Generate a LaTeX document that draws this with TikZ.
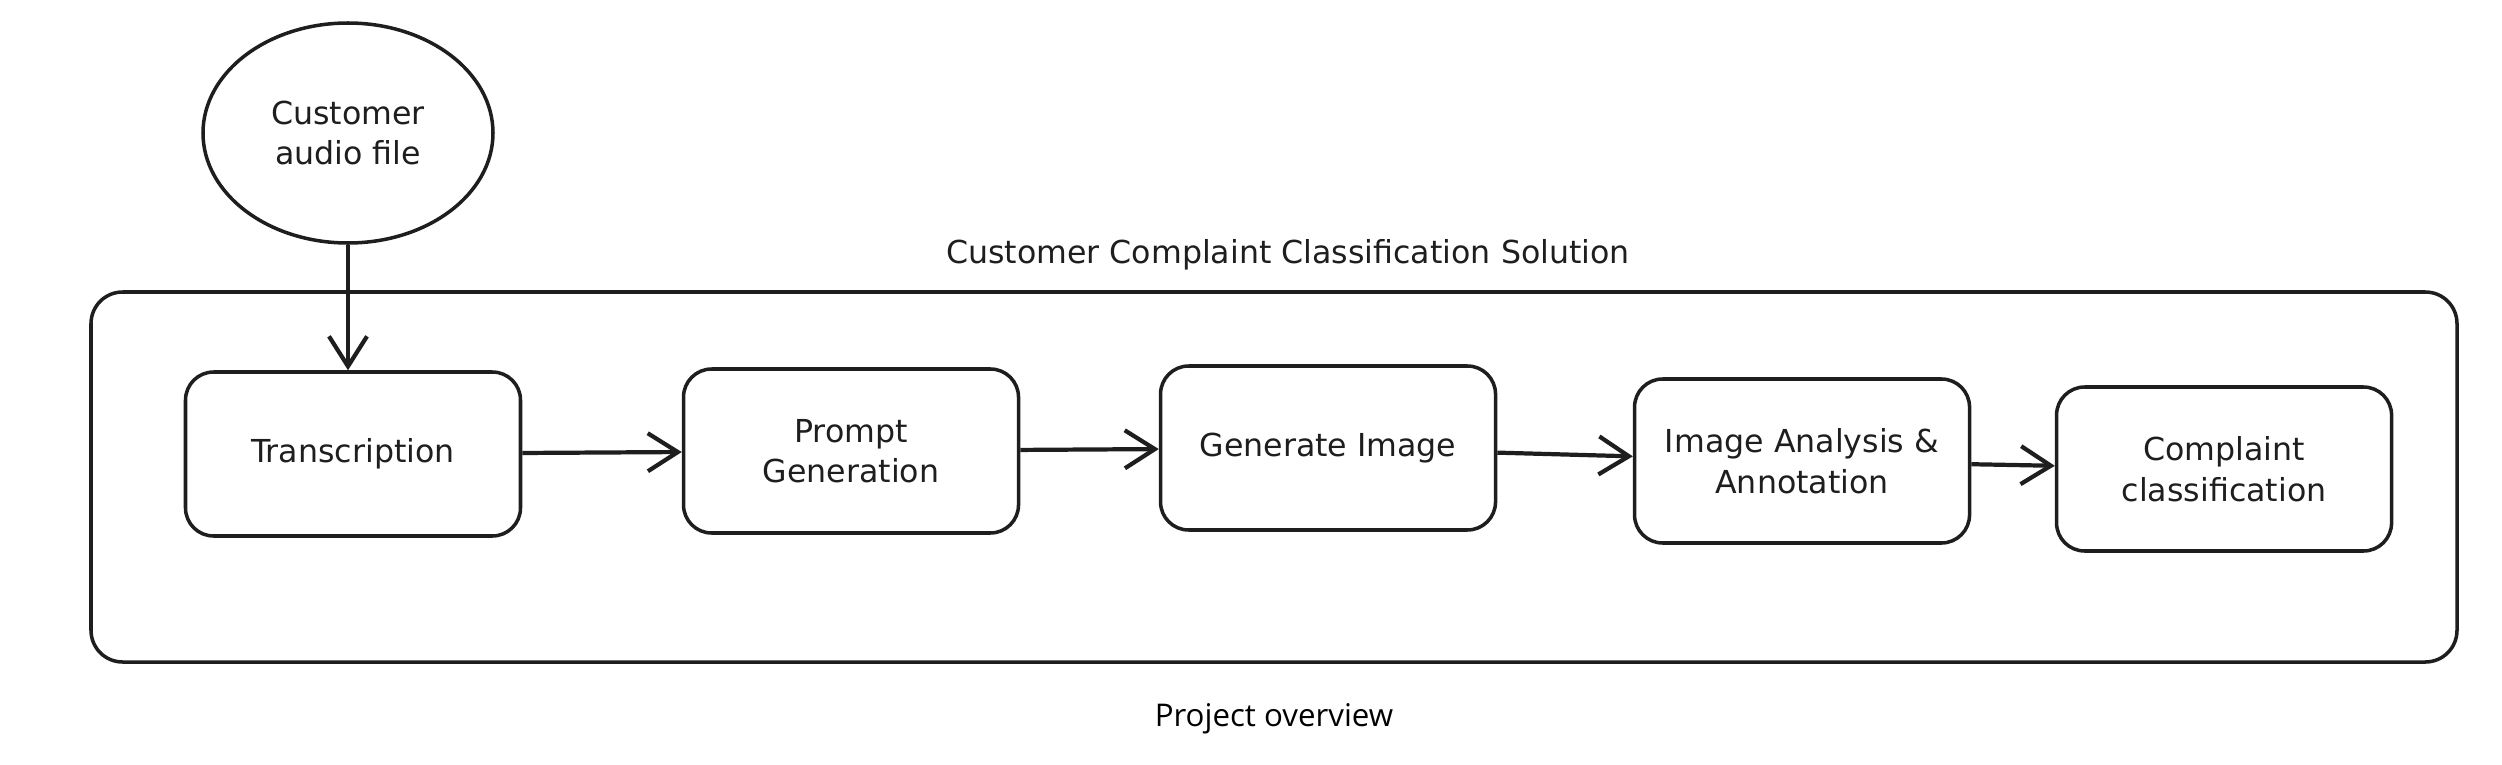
\documentclass[tikz,border=0pt]{standalone}
\usepackage{fontspec}
\setmainfont{DejaVu Sans}
\newfontfamily\captionfont{Open Sans}
\usepackage{xcolor}
\usetikzlibrary{arrows.meta,positioning,shapes.geometric}
\definecolor{ink}{HTML}{1E1E1E}
\tikzset{
  sketch/.style={draw=ink,line width=1pt,text=ink,align=center,
                 font=\fontsize{9}{11.5}\selectfont},
  stepbox/.style={sketch,rounded corners=8pt,minimum width=3.35cm,minimum height=1.64cm},
  source/.style={sketch,ellipse,minimum width=2.9cm,minimum height=2.2cm},
  frame/.style={draw=ink,line width=1pt,rounded corners=9pt,
                minimum width=23.66cm,minimum height=3.70cm},
  flow/.style={-{Straight Barb[length=3mm,width=3.8mm]},line width=1.2pt,draw=ink}
}
\begin{document}
\begin{tikzpicture}
    \useasboundingbox (0,0) rectangle (25.02,7.64);
    \node[frame] (solution) at (12.74,2.87) {};
    \node[sketch,draw=none,above=0.07cm of solution.north,xshift=1.4mm] (title) {Customer Complaint Classification Solution};
    \node[below=0.27cm of solution.south,text=black,font=\captionfont\fontsize{8.9}{10}\selectfont] (caption) {Project overview};
    \node[source] (audio) at (3.48,6.31) {Customer\\audio file};
    \node[stepbox] (trans) at (3.53,3.10) {Transcription};
    \node[stepbox,right=1.595cm of trans,yshift=0.03cm] (prompt) {Prompt\\Generation};
    \node[stepbox,right=1.385cm of prompt,yshift=0.03cm] (genimg) {Generate Image};
    \node[stepbox,right=1.355cm of genimg,yshift=-0.13cm] (analysis) {Image Analysis \&\\Annotation};
    \node[stepbox,right=0.835cm of analysis,yshift=-0.08cm] (classify) {Complaint\\classification};
    \draw[flow] (audio.south) -- (audio.south |- trans.north);
    \draw[flow] (trans) -- (prompt); \draw[flow] (prompt) -- (genimg); \draw[flow] (genimg) -- (analysis); \draw[flow] (analysis) -- (classify);
  \end{tikzpicture}
\end{document}
